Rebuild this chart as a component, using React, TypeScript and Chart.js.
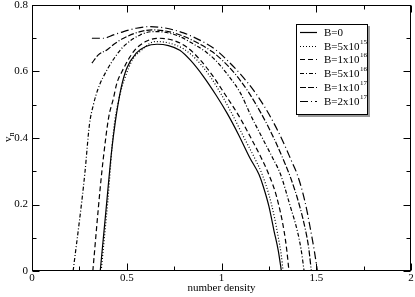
import { useEffect, useRef } from "react";
import { Chart, registerables } from "chart.js";
Chart.register(...registerables);

// ---- data ----
const legendBase = ["B=0", "B=5x10", "B=1x10", "B=5x10", "B=1x10", "B=2x10"];
const legendExp = ["", "15", "16", "16", "17", "17"];

const xB0 = [0.36, 0.39, 0.42, 0.44, 0.47, 0.5, 0.55, 0.6, 0.66, 0.72, 0.78, 0.836, 0.906, 0.97, 1.03, 1.09, 1.15, 1.198, 1.22, 1.25, 1.277, 1.3, 1.316];
const yB0 = [0, 0.18, 0.36, 0.45, 0.55, 0.61, 0.655, 0.675, 0.682, 0.678, 0.664, 0.634, 0.584, 0.53, 0.474, 0.41, 0.34, 0.29, 0.255, 0.195, 0.121, 0.06, 0];

const xB5e15 = [0.365, 0.4, 0.43, 0.46, 0.49, 0.53, 0.57, 0.65, 0.72, 0.8, 0.871, 0.94, 1.0, 1.056, 1.12, 1.17, 1.215, 1.25, 1.28, 1.3, 1.315, 1.325];
const yB5e15 = [0, 0.21, 0.42, 0.52, 0.58, 0.635, 0.66, 0.69, 0.686, 0.668, 0.634, 0.585, 0.53, 0.472, 0.4, 0.345, 0.29, 0.23, 0.16, 0.1, 0.05, 0];

const xB1e16 = [0.321, 0.36, 0.377, 0.404, 0.43, 0.448, 0.475, 0.536, 0.6, 0.67, 0.75, 0.82, 0.889, 0.95, 1.02, 1.09, 1.16, 1.21, 1.25, 1.29, 1.33, 1.345, 1.356];
const yB1e16 = [0, 0.25, 0.342, 0.46, 0.52, 0.565, 0.6, 0.66, 0.69, 0.7, 0.693, 0.672, 0.634, 0.59, 0.53, 0.468, 0.395, 0.34, 0.29, 0.225, 0.121, 0.06, 0];

const xB5e16 = [0.217, 0.263, 0.28, 0.303, 0.324, 0.35, 0.395, 0.44, 0.483, 0.571, 0.64, 0.7, 0.78, 0.86, 0.92, 0.968, 1.04, 1.1, 1.153, 1.22, 1.27, 1.312, 1.36, 1.4, 1.42, 1.436];
const yB5e16 = [0, 0.211, 0.3, 0.44, 0.5, 0.55, 0.604, 0.645, 0.675, 0.71, 0.72, 0.718, 0.705, 0.68, 0.658, 0.634, 0.585, 0.535, 0.47, 0.395, 0.34, 0.29, 0.2, 0.121, 0.065, 0];

const xB1e17 = [0.316, 0.35, 0.395, 0.44, 0.483, 0.571, 0.64, 0.72, 0.8, 0.88, 0.95, 1.004, 1.07, 1.14, 1.215, 1.28, 1.33, 1.365, 1.41, 1.444, 1.46, 1.474];
const yB1e17 = [0.625, 0.65, 0.665, 0.685, 0.7, 0.72, 0.725, 0.72, 0.706, 0.684, 0.66, 0.634, 0.594, 0.54, 0.468, 0.395, 0.33, 0.28, 0.2, 0.121, 0.07, 0];

const xB2e17 = [0.316, 0.35, 0.377, 0.43, 0.483, 0.55, 0.62, 0.7, 0.8, 0.9, 0.97, 1.03, 1.1, 1.18, 1.25, 1.32, 1.37, 1.4, 1.44, 1.471, 1.49, 1.506];
const yB2e17 = [0.7, 0.7, 0.7, 0.71, 0.72, 0.73, 0.735, 0.731, 0.716, 0.69, 0.665, 0.634, 0.592, 0.535, 0.472, 0.395, 0.33, 0.29, 0.21, 0.121, 0.06, 0];

const xTickValues = [0, 0.5, 1, 1.5, 2];
const yTickValues = [0, 0.2, 0.4, 0.6, 0.8];

const seriesX = [xB0, xB5e15, xB1e16, xB5e16, xB1e17, xB2e17];
const seriesY = [yB0, yB5e15, yB1e16, yB5e16, yB1e17, yB2e17];

// ---- styles ----
const dashStyles: number[][] = [[], [1, 2], [5, 3], [4, 2, 1, 2], [6, 2, 6, 2, 1, 2], [8, 3, 1, 3]];
const SERIF = "'Liberation Serif', 'DejaVu Serif', serif";

const framePlugin = {
  id: "frame",
  afterDraw(chart: any) {
    const { ctx, chartArea, scales } = chart;
    const { left, right, top, bottom } = chartArea;
    const xs = scales.x;
    const ys = scales.y;
    ctx.save();
    ctx.strokeStyle = "#000";
    ctx.lineWidth = 1;
    ctx.setLineDash([]);
    const L = Math.round(left) + 0.5;
    const R = Math.round(right) - 0.5;
    const T = Math.round(top) + 0.5;
    const B = Math.round(bottom) - 0.5;
    ctx.strokeRect(L, T, R - L, B - T);
    ctx.beginPath();
    for (let i = 0; i <= 8; i++) {
      const v = i * 0.25;
      const len = i % 2 === 0 ? 7 : 4;
      const px = Math.round(xs.getPixelForValue(v)) + 0.5;
      ctx.moveTo(px, B);
      ctx.lineTo(px, B - len);
      ctx.moveTo(px, T);
      ctx.lineTo(px, T + len);
    }
    for (let i = 0; i <= 8; i++) {
      const v = i * 0.1;
      const len = i % 2 === 0 ? 7 : 4;
      const py = Math.round(ys.getPixelForValue(v)) + 0.5;
      ctx.moveTo(L, py);
      ctx.lineTo(L + len, py);
      ctx.moveTo(R, py);
      ctx.lineTo(R - len, py);
    }
    ctx.stroke();

    // axis titles
    ctx.fillStyle = "#000";
    ctx.font = `11px ${SERIF}`;
    ctx.textAlign = "center";
    ctx.textBaseline = "alphabetic";
    ctx.fillText("number density", (left + right) / 2, 291);

    ctx.save();
    ctx.translate(11, (top + bottom) / 2);
    ctx.rotate(-Math.PI / 2);
    ctx.textAlign = "left";
    ctx.font = `11px ${SERIF}`;
    ctx.fillText("v", -4, 0);
    ctx.font = `8px ${SERIF}`;
    ctx.fillText("n", 1.5, 3);
    ctx.restore();

    // legend
    const bx = 296, by = 24, bw = 72, bh = 91;
    ctx.fillStyle = "#fff";
    ctx.fillRect(bx, by, bw, bh);
    ctx.fillStyle = "#999";
    ctx.fillRect(bx + bw, by + 2, 2, bh);
    ctx.fillRect(bx + 2, by + bh, bw, 2);
    ctx.strokeStyle = "#000";
    ctx.strokeRect(bx + 0.5, by + 0.5, bw - 1, bh - 1);
    chart.data.datasets.forEach((ds: any, i: number) => {
      const cy = Math.round(31.7 + i * 13.8) + 0.5;
      ctx.beginPath();
      ctx.setLineDash(ds.borderDash || []);
      ctx.lineWidth = 1.2;
      ctx.moveTo(300, cy);
      ctx.lineTo(317, cy);
      ctx.stroke();
      ctx.setLineDash([]);
      ctx.fillStyle = "#000";
      ctx.textAlign = "left";
      ctx.textBaseline = "middle";
      ctx.font = `11px ${SERIF}`;
      ctx.fillText(legendBase[i], 324, cy + 0.5);
      const w = ctx.measureText(legendBase[i]).width;
      if (legendExp[i]) {
        ctx.font = `7px ${SERIF}`;
        ctx.fillText(legendExp[i], 324 + w + 0.5, cy - 4.5);
      }
    });
    ctx.restore();
  },
};

export default function App() {
  const ref = useRef<HTMLCanvasElement>(null);
  useEffect(() => {
    document.body.style.margin = "0";
    const canvas = ref.current!;
    const chart = new Chart(canvas, {
      type: "scatter",
      data: {
        datasets: seriesX.map((xs, i) => ({
          label: legendBase[i] + legendExp[i],
          data: xs.map((x, j) => ({ x, y: seriesY[i][j] })),
          showLine: true,
          borderColor: "#000",
          backgroundColor: "#000",
          borderWidth: 1.2,
          borderDash: dashStyles[i],
          pointRadius: 0,
          cubicInterpolationMode: "monotone" as const,
          fill: false,
        })),
      },
      options: {
        animation: false,
        responsive: false,
        devicePixelRatio: 1,
        layout: { padding: { left: 0, right: 4, top: 5, bottom: 0 } },
        plugins: { legend: { display: false }, tooltip: { enabled: false } },
        scales: {
          x: {
            type: "linear",
            min: 0,
            max: 2,
            afterBuildTicks: (s: any) => {
              s.ticks = xTickValues.map((v) => ({ value: v }));
            },
            afterFit: (s: any) => {
              s.height = 26;
              s.paddingLeft = 0;
              s.paddingRight = 0;
            },
            grid: { display: false, drawTicks: false },
            border: { display: false },
            ticks: {
              autoSkip: false,
              maxRotation: 0,
              padding: 1,
              color: "#000",
              font: { family: SERIF, size: 11 },
              callback: (v: any) => String(v),
            },
          },
          y: {
            type: "linear",
            min: 0,
            max: 0.8,
            afterBuildTicks: (s: any) => {
              s.ticks = yTickValues.map((v) => ({ value: v }));
            },
            afterFit: (s: any) => {
              s.width = 32;
              s.paddingTop = 0;
              s.paddingBottom = 0;
            },
            grid: { display: false, drawTicks: false },
            border: { display: false },
            ticks: {
              autoSkip: false,
              padding: 4,
              color: "#000",
              font: { family: SERIF, size: 11 },
              callback: (v: any) => String(v),
            },
          },
        },
      },
      plugins: [framePlugin],
    });
    return () => chart.destroy();
  }, []);
  return <canvas ref={ref} width={415} height={297} style={{ display: "block" }} />;
}
